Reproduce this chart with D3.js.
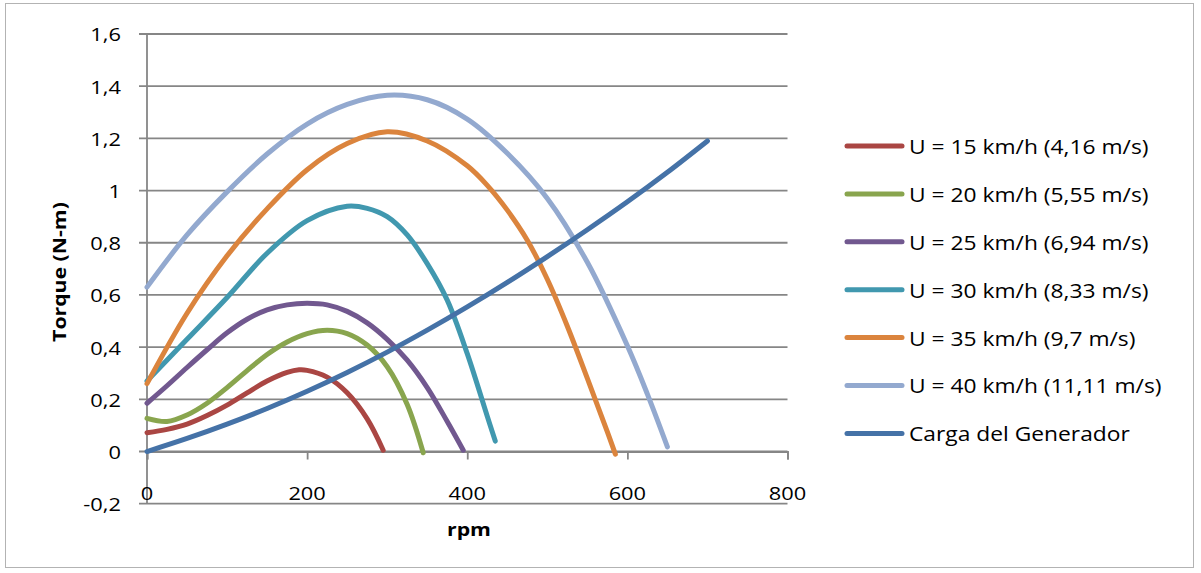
<!DOCTYPE html>
<html><head><meta charset="utf-8">
<script src="https://cdn.jsdelivr.net/npm/d3@7"></script>
<style>
html,body{margin:0;padding:0;background:#fff;}
svg{display:block;}
text{font-family:"Open Sans",sans-serif;fill:#000;}
</style></head>
<body>
<svg id="chart" width="1201" height="573"></svg>
<script>
// ---------- data ----------
const xTicks = [0, 200, 400, 600, 800];
const yTicks = [-0.2, 0, 0.2, 0.4, 0.6, 0.8, 1, 1.2, 1.4, 1.6];
const yTickLabels = ["-0,2", "0", "0,2", "0,4", "0,6", "0,8", "1", "1,2", "1,4", "1,6"];

const seriesNames = [
  "U = 15 km/h (4,16 m/s)",
  "U = 20 km/h (5,55 m/s)",
  "U = 25 km/h (6,94 m/s)",
  "U = 30 km/h (8,33 m/s)",
  "U = 35 km/h (9,7 m/s)",
  "U = 40 km/h (11,11 m/s)",
  "Carga del Generador"
];
const seriesColors = ["#AA4643", "#89A54E", "#71588F", "#4198AF", "#DB843D", "#93A9CF", "#4572A7"];

const rpm15 = [0, 25, 50, 75, 100, 125, 150, 175, 190, 200, 225, 250, 275, 295];
const torque15 = [0.072, 0.085, 0.105, 0.138, 0.178, 0.225, 0.27, 0.303, 0.313, 0.311, 0.285, 0.225, 0.125, 0.005];

const rpm20 = [0, 25, 50, 75, 100, 125, 150, 175, 200, 225, 250, 275, 300, 325, 345];
const torque20 = [0.127, 0.115, 0.14, 0.185, 0.245, 0.31, 0.372, 0.42, 0.452, 0.465, 0.452, 0.408, 0.325, 0.18, -0.005];

const rpm25 = [0, 25, 50, 75, 100, 125, 150, 175, 200, 225, 250, 275, 300, 325, 350, 375, 395];
const torque25 = [0.185, 0.252, 0.322, 0.39, 0.455, 0.507, 0.543, 0.562, 0.568, 0.562, 0.537, 0.493, 0.43, 0.35, 0.245, 0.115, 0.005];

const rpm30 = [0, 50, 100, 150, 200, 250, 275, 300, 325, 350, 375, 400, 425, 435];
const torque30 = [0.27, 0.43, 0.59, 0.76, 0.885, 0.94, 0.932, 0.9, 0.83, 0.72, 0.58, 0.375, 0.135, 0.04];

const rpm35 = [0, 50, 100, 150, 200, 250, 300, 350, 400, 425, 450, 475, 500, 525, 550, 575, 585];
const torque35 = [0.26, 0.53, 0.75, 0.93, 1.08, 1.18, 1.225, 1.19, 1.095, 1.02, 0.925, 0.81, 0.66, 0.48, 0.28, 0.075, -0.01];

const rpm40 = [0, 50, 100, 150, 200, 250, 300, 350, 400, 450, 500, 550, 600, 625, 650];
const torque40 = [0.63, 0.83, 0.995, 1.14, 1.255, 1.33, 1.365, 1.348, 1.274, 1.143, 0.97, 0.725, 0.405, 0.22, 0.018];

const rpmLoad = [0, 50, 100, 150, 200, 250, 300, 350, 400, 450, 500, 550, 600, 650, 700];
const torqueLoad = [0, 0.05, 0.105, 0.165, 0.231, 0.303, 0.381, 0.465, 0.554, 0.648, 0.747, 0.85, 0.957, 1.07, 1.19];

const seriesX = [rpm15, rpm20, rpm25, rpm30, rpm35, rpm40, rpmLoad];
const seriesY = [torque15, torque20, torque25, torque30, torque35, torque40, torqueLoad];

// ---------- layout ----------
const svg = d3.select("#chart");
const plot = {left: 147, right: 787.5, top: 34, bottom: 503.7};
const TICK_SX = 1.15, LEG_SX = 1.14, TITLE_SX = 1.18;

const x = d3.scaleLinear().domain([0, 800]).range([plot.left, plot.right]);
const y = d3.scaleLinear().domain([-0.2, 1.6]).range([plot.bottom, plot.top]);

// outer border
svg.append("rect").attr("x", 5.5).attr("y", 3.5).attr("width", 1188).attr("height", 564)
  .attr("fill", "none").attr("stroke", "#b3b3b3").attr("stroke-width", 1);

// horizontal gridlines (with left tick stubs)
const gridColor = "#868686";
svg.append("g").selectAll("line").data(yTicks).join("line")
  .attr("x1", plot.left - 8).attr("x2", plot.right)
  .attr("y1", d => y(d)).attr("y2", d => y(d))
  .attr("stroke", gridColor).attr("stroke-width", 1.8);

// y axis line
svg.append("line").attr("x1", plot.left).attr("x2", plot.left)
  .attr("y1", plot.top).attr("y2", plot.bottom)
  .attr("stroke", gridColor).attr("stroke-width", 1.8);

// x axis (at y=0) with ticks downward
const xAxis = d3.axisBottom(x).tickValues(xTicks).tickSize(8).tickFormat("");
const gx = svg.append("g").attr("transform", `translate(0,${y(0)})`).call(xAxis);
gx.select(".domain").attr("stroke", gridColor).attr("stroke-width", 1.8);
gx.selectAll(".tick line").attr("stroke", gridColor).attr("stroke-width", 1.8);

// y tick labels
svg.append("g").selectAll("text").data(yTicks).join("text")
  .attr("transform", d => `translate(121,${y(d)}) scale(${TICK_SX},1)`)
  .attr("text-anchor", "end").attr("dominant-baseline", "central")
  .style("font-size", "19px")
  .text((d, i) => yTickLabels[i]);

// x tick labels
svg.append("g").selectAll("text").data(xTicks).join("text")
  .attr("transform", d => `translate(${x(d)},${y(0) + 41}) scale(${TICK_SX},1)`)
  .attr("text-anchor", "middle").attr("dominant-baseline", "central")
  .style("font-size", "19px")
  .text(d => String(d));

// axis titles
svg.append("text")
  .attr("transform", `translate(469,529) scale(${TITLE_SX},1)`)
  .attr("text-anchor", "middle").attr("dominant-baseline", "central")
  .style("font-size", "18px").style("font-weight", "bold")
  .text("rpm");
svg.append("text")
  .attr("transform", `translate(59,272) rotate(-90) scale(${TITLE_SX},1)`)
  .attr("text-anchor", "middle").attr("dominant-baseline", "central")
  .style("font-size", "18px").style("font-weight", "bold")
  .text("Torque (N-m)");

// series lines
const line = d3.line().x(d => x(d[0])).y(d => y(d[1])).curve(d3.curveCatmullRom.alpha(0.5));
svg.append("g").selectAll("path").data(seriesX.map((xs, i) => xs.map((v, j) => [v, seriesY[i][j]])))
  .join("path")
  .attr("d", line)
  .attr("fill", "none")
  .attr("stroke", (d, i) => seriesColors[i])
  .attr("stroke-width", 5)
  .attr("stroke-linecap", "round")
  .attr("stroke-linejoin", "round");

// legend
const legY0 = 146, legStep = 47.9;
const leg = svg.append("g").selectAll("g").data(seriesNames).join("g")
  .attr("transform", (d, i) => `translate(0,${legY0 + i * legStep})`);
leg.append("line").attr("x1", 847).attr("x2", 902).attr("y1", 0).attr("y2", 0)
  .attr("stroke", (d, i) => seriesColors[i]).attr("stroke-width", 5).attr("stroke-linecap", "round");
leg.append("text")
  .attr("transform", `translate(909,0) scale(${LEG_SX},1)`)
  .attr("dominant-baseline", "central")
  .style("font-size", "20px")
  .text(d => d);
</script>
</body></html>
